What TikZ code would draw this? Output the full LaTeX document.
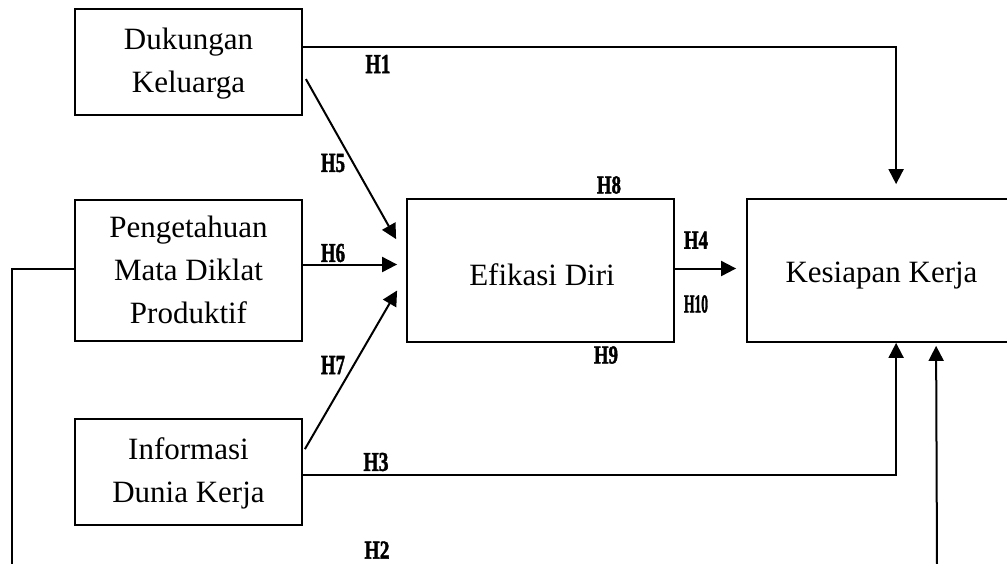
\documentclass[tikz,border=0pt]{standalone}
\usepackage{fontspec}
\setmainfont{Liberation Serif}
\newfontfamily\hypfont{Liberation Serif Bold}[FakeBold=2]
\usepackage{graphicx}
\usetikzlibrary{arrows.meta,calc}
\tikzset{
  varbox/.style={draw, line width=1.8pt, inner sep=0pt},
  vartext/.style={inner sep=0pt, align=center,
    font=\fontsize{31}{43}\selectfont},
  link/.style={line width=2pt},
  arr/.style={line width=2pt, -{Triangle[length=15pt,width=15pt]}},
  hyp/.style={inner sep=0pt}
}
\newcommand{\hlab}[3]{\resizebox{#1pt}{#2pt}{\hypfont #3}}
\begin{document}
\begin{tikzpicture}[x=1pt,y=-1pt]
\clip (0,0) rectangle (1007,563);
\fill[white] (0,0) rectangle (1007,563);

% variable boxes
\node[varbox, minimum width=227, minimum height=106] (dk)  at (188.5,62)    {};
\node[varbox, minimum width=227, minimum height=141] (pm)  at (188.5,270.5) {};
\node[varbox, minimum width=227, minimum height=106] (idk) at (188.5,472)   {};
\node[varbox, minimum width=267, minimum height=143] (ed)  at (540.5,270.5) {};
\node[varbox, minimum width=269, minimum height=143] (kk)  at (881.5,270.5) {};

% box texts
\node[vartext] (tdk)  at (188.5,63.5)  {Dukungan\\Keluarga};
\node[vartext] (tpm)  at (188.5,269.5) {Pengetahuan\\Mata Diklat\\Produktif};
\node[vartext] (tidk) at (188.5,473.5) {Informasi\\Dunia Kerja};
\node[vartext] (ted)  at (542,274.5)   {Efikasi Diri};
\node[vartext] (tkk)  at (881.5,276)   {Kesiapan Kerja};

% loose ends of the H2 paths
\coordinate (h2l) at (12,566);
\coordinate (h2r) at (937,566);

% connectors
\draw[arr] ($(dk.north east)+(0,39)$) -| ($(kk.north west)+(150,-14)$);
\draw[arr] ($(dk.north east)+(3,71)$) -- ($(ed.north west)+(-10,41)$);
\draw[arr] ($(pm.east)+(0,-6)$) -- ($(ed.west)+(-9,-6)$);
\draw[arr] ($(idk.north east)+(2,31)$) -- ($(ed.west)+(-9,20)$);
\draw[arr] ($(ed.east)+(0,-2)$) -- ($(kk.west)+(-10,-2)$);
\draw[arr] ($(idk.east)+(0,3)$) -| ($(kk.south west)+(150,0)$);
\draw[link] ($(pm.west)+(0,-1.5)$) -| (h2l);
\draw[arr] (h2r) -- ($(kk.south west)+(190,3)$);

% hypothesis labels
\node[hyp] (l1)  at (378,64)  {\hlab{25}{18}{H1}};
\node[hyp] (l5)  at (333,163) {\hlab{24}{18}{H5}};
\node[hyp] (l6)  at (333,253) {\hlab{24}{18}{H6}};
\node[hyp] (l7)  at (333,365) {\hlab{24}{18}{H7}};
\node[hyp] (l8)  at (609,185) {\hlab{24}{17}{H8}};
\node[hyp] (l4)  at (696,240) {\hlab{24}{17}{H4}};
\node[hyp] (l10) at (696,304) {\hlab{24}{17}{H10}};
\node[hyp] (l9)  at (606,355) {\hlab{24}{17}{H9}};
\node[hyp] (l3)  at (376,462) {\hlab{25}{18}{H3}};
\node[hyp] (l2)  at (377,550) {\hlab{25}{17}{H2}};
\end{tikzpicture}
\end{document}
